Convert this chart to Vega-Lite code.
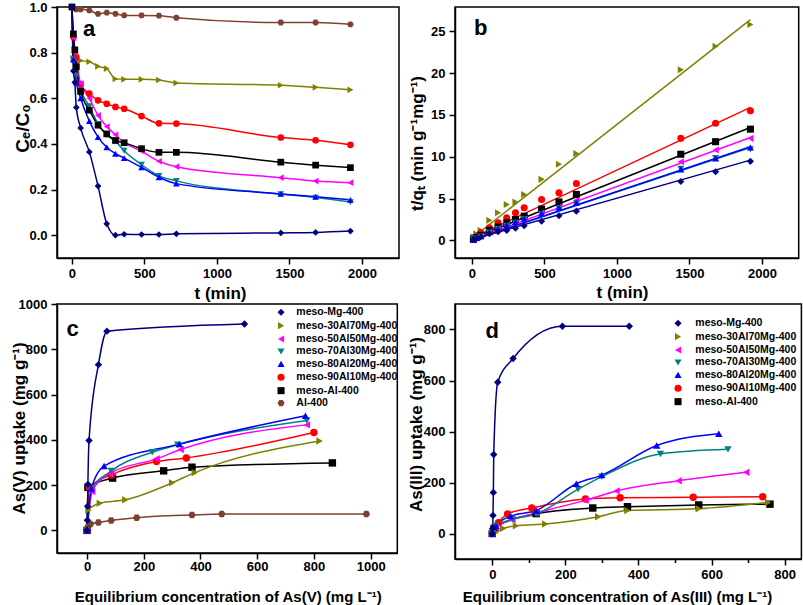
{
"$schema": "https://vega.github.io/schema/vega-lite/v6.json",
"background": "white",
"padding": {"left": 9, "top": 0, "right": 0, "bottom": 0},
"config": {
 "font": "Liberation Sans",
 "view": {"stroke": "black", "strokeWidth": 1.5},
 "axis": {"grid": false, "domainColor": "black", "domainWidth": 1.5, "tickColor": "black", "tickWidth": 1.5,
   "labelFont": "Liberation Sans", "labelFontWeight": "bold", "labelFontSize": 13, "labelColor": "black",
   "titleFont": "Liberation Sans", "titleFontWeight": "bold", "titleFontSize": 17, "titleColor": "black",
   "labelOverlap": false, "labelFlush": false, "labelBound": false, "titleBaseline": "middle", "titleAlign": "center"},
 "legend": {"labelFont": "Liberation Sans", "labelFontWeight": "bold", "labelFontSize": 10.5, "labelColor": "black", "padding": 0, "rowPadding": -0.6}
},
"datasets": {
"kin": [
{"s":"Al-400","x":0,"y":1.0},{"s":"Al-400","x":10,"y":0.995},{"s":"Al-400","x":30,"y":0.99},{"s":"Al-400","x":60,"y":0.99},{"s":"Al-400","x":120,"y":0.985},{"s":"Al-400","x":180,"y":0.97},{"s":"Al-400","x":240,"y":0.975},{"s":"Al-400","x":300,"y":0.97},{"s":"Al-400","x":360,"y":0.963},{"s":"Al-400","x":480,"y":0.963},{"s":"Al-400","x":600,"y":0.962},{"s":"Al-400","x":720,"y":0.953},{"s":"Al-400","x":1440,"y":0.932},{"s":"Al-400","x":1680,"y":0.932},{"s":"Al-400","x":1920,"y":0.924},
{"s":"meso-30Al70Mg-400","x":0,"y":1.0},{"s":"meso-30Al70Mg-400","x":10,"y":0.775},{"s":"meso-30Al70Mg-400","x":30,"y":0.77},{"s":"meso-30Al70Mg-400","x":60,"y":0.765},{"s":"meso-30Al70Mg-400","x":120,"y":0.76},{"s":"meso-30Al70Mg-400","x":180,"y":0.74},{"s":"meso-30Al70Mg-400","x":240,"y":0.73},{"s":"meso-30Al70Mg-400","x":300,"y":0.685},{"s":"meso-30Al70Mg-400","x":360,"y":0.683},{"s":"meso-30Al70Mg-400","x":480,"y":0.683},{"s":"meso-30Al70Mg-400","x":600,"y":0.68},{"s":"meso-30Al70Mg-400","x":720,"y":0.667},{"s":"meso-30Al70Mg-400","x":1440,"y":0.657},{"s":"meso-30Al70Mg-400","x":1680,"y":0.648},{"s":"meso-30Al70Mg-400","x":1920,"y":0.637},
{"s":"meso-90Al10Mg-400","x":0,"y":1.0},{"s":"meso-90Al10Mg-400","x":10,"y":0.868},{"s":"meso-90Al10Mg-400","x":30,"y":0.78},{"s":"meso-90Al10Mg-400","x":60,"y":0.66},{"s":"meso-90Al10Mg-400","x":120,"y":0.62},{"s":"meso-90Al10Mg-400","x":180,"y":0.591},{"s":"meso-90Al10Mg-400","x":240,"y":0.576},{"s":"meso-90Al10Mg-400","x":300,"y":0.562},{"s":"meso-90Al10Mg-400","x":360,"y":0.554},{"s":"meso-90Al10Mg-400","x":480,"y":0.522},{"s":"meso-90Al10Mg-400","x":600,"y":0.49},{"s":"meso-90Al10Mg-400","x":720,"y":0.489},{"s":"meso-90Al10Mg-400","x":1440,"y":0.428},{"s":"meso-90Al10Mg-400","x":1680,"y":0.416},{"s":"meso-90Al10Mg-400","x":1920,"y":0.396},
{"s":"meso-50Al50Mg-400","x":0,"y":1.0},{"s":"meso-50Al50Mg-400","x":10,"y":0.865},{"s":"meso-50Al50Mg-400","x":20,"y":0.8},{"s":"meso-50Al50Mg-400","x":30,"y":0.74},{"s":"meso-50Al50Mg-400","x":60,"y":0.665},{"s":"meso-50Al50Mg-400","x":120,"y":0.6},{"s":"meso-50Al50Mg-400","x":180,"y":0.525},{"s":"meso-50Al50Mg-400","x":240,"y":0.476},{"s":"meso-50Al50Mg-400","x":300,"y":0.44},{"s":"meso-50Al50Mg-400","x":360,"y":0.405},{"s":"meso-50Al50Mg-400","x":480,"y":0.368},{"s":"meso-50Al50Mg-400","x":600,"y":0.324},{"s":"meso-50Al50Mg-400","x":720,"y":0.3},{"s":"meso-50Al50Mg-400","x":1440,"y":0.252},{"s":"meso-50Al50Mg-400","x":1680,"y":0.237},{"s":"meso-50Al50Mg-400","x":1920,"y":0.23},
{"s":"meso-70Al30Mg-400","x":0,"y":1.0},{"s":"meso-70Al30Mg-400","x":10,"y":0.77},{"s":"meso-70Al30Mg-400","x":30,"y":0.7},{"s":"meso-70Al30Mg-400","x":60,"y":0.635},{"s":"meso-70Al30Mg-400","x":120,"y":0.565},{"s":"meso-70Al30Mg-400","x":180,"y":0.488},{"s":"meso-70Al30Mg-400","x":240,"y":0.438},{"s":"meso-70Al30Mg-400","x":300,"y":0.412},{"s":"meso-70Al30Mg-400","x":360,"y":0.37},{"s":"meso-70Al30Mg-400","x":480,"y":0.309},{"s":"meso-70Al30Mg-400","x":600,"y":0.26},{"s":"meso-70Al30Mg-400","x":720,"y":0.238},{"s":"meso-70Al30Mg-400","x":1440,"y":0.18},{"s":"meso-70Al30Mg-400","x":1680,"y":0.165},{"s":"meso-70Al30Mg-400","x":1920,"y":0.145},
{"s":"meso-80Al20Mg-400","x":0,"y":1.0},{"s":"meso-80Al20Mg-400","x":10,"y":0.77},{"s":"meso-80Al20Mg-400","x":30,"y":0.67},{"s":"meso-80Al20Mg-400","x":60,"y":0.6},{"s":"meso-80Al20Mg-400","x":120,"y":0.5},{"s":"meso-80Al20Mg-400","x":180,"y":0.43},{"s":"meso-80Al20Mg-400","x":240,"y":0.385},{"s":"meso-80Al20Mg-400","x":300,"y":0.357},{"s":"meso-80Al20Mg-400","x":360,"y":0.338},{"s":"meso-80Al20Mg-400","x":480,"y":0.297},{"s":"meso-80Al20Mg-400","x":600,"y":0.254},{"s":"meso-80Al20Mg-400","x":720,"y":0.226},{"s":"meso-80Al20Mg-400","x":1440,"y":0.181},{"s":"meso-80Al20Mg-400","x":1680,"y":0.168},{"s":"meso-80Al20Mg-400","x":1920,"y":0.155},
{"s":"meso-Al-400","x":0,"y":1.0},{"s":"meso-Al-400","x":10,"y":0.882},{"s":"meso-Al-400","x":20,"y":0.812},{"s":"meso-Al-400","x":30,"y":0.738},{"s":"meso-Al-400","x":60,"y":0.63},{"s":"meso-Al-400","x":120,"y":0.548},{"s":"meso-Al-400","x":180,"y":0.482},{"s":"meso-Al-400","x":240,"y":0.444},{"s":"meso-Al-400","x":300,"y":0.415},{"s":"meso-Al-400","x":360,"y":0.405},{"s":"meso-Al-400","x":480,"y":0.379},{"s":"meso-Al-400","x":600,"y":0.363},{"s":"meso-Al-400","x":720,"y":0.363},{"s":"meso-Al-400","x":1440,"y":0.32},{"s":"meso-Al-400","x":1680,"y":0.307},{"s":"meso-Al-400","x":1920,"y":0.296},
{"s":"meso-Mg-400","x":0,"y":1.0},{"s":"meso-Mg-400","x":10,"y":0.72},{"s":"meso-Mg-400","x":20,"y":0.67},{"s":"meso-Mg-400","x":30,"y":0.56},{"s":"meso-Mg-400","x":60,"y":0.47},{"s":"meso-Mg-400","x":120,"y":0.365},{"s":"meso-Mg-400","x":180,"y":0.215},{"s":"meso-Mg-400","x":240,"y":0.05},{"s":"meso-Mg-400","x":300,"y":0.0},{"s":"meso-Mg-400","x":360,"y":0.004},{"s":"meso-Mg-400","x":480,"y":0.003},{"s":"meso-Mg-400","x":600,"y":0.003},{"s":"meso-Mg-400","x":720,"y":0.006},{"s":"meso-Mg-400","x":1440,"y":0.01},{"s":"meso-Mg-400","x":1680,"y":0.012},{"s":"meso-Mg-400","x":1920,"y":0.018}
],
"bpts": [
{"s":"meso-30Al70Mg-400","x":10,"y":0.4},{"s":"meso-30Al70Mg-400","x":30,"y":0.8},{"s":"meso-30Al70Mg-400","x":60,"y":1.2},{"s":"meso-30Al70Mg-400","x":120,"y":2.4},{"s":"meso-30Al70Mg-400","x":180,"y":3.3},{"s":"meso-30Al70Mg-400","x":240,"y":4.3},{"s":"meso-30Al70Mg-400","x":300,"y":4.6},{"s":"meso-30Al70Mg-400","x":360,"y":5.5},{"s":"meso-30Al70Mg-400","x":480,"y":7.3},{"s":"meso-30Al70Mg-400","x":600,"y":9.1},{"s":"meso-30Al70Mg-400","x":720,"y":10.4},{"s":"meso-30Al70Mg-400","x":1440,"y":20.4},{"s":"meso-30Al70Mg-400","x":1680,"y":23.2},{"s":"meso-30Al70Mg-400","x":1920,"y":25.8},
{"s":"meso-90Al10Mg-400","x":10,"y":0.2},{"s":"meso-90Al10Mg-400","x":30,"y":0.45},{"s":"meso-90Al10Mg-400","x":60,"y":0.9},{"s":"meso-90Al10Mg-400","x":120,"y":1.5},{"s":"meso-90Al10Mg-400","x":180,"y":2.1},{"s":"meso-90Al10Mg-400","x":240,"y":2.7},{"s":"meso-90Al10Mg-400","x":300,"y":3.3},{"s":"meso-90Al10Mg-400","x":360,"y":3.9},{"s":"meso-90Al10Mg-400","x":480,"y":4.9},{"s":"meso-90Al10Mg-400","x":600,"y":5.7},{"s":"meso-90Al10Mg-400","x":720,"y":6.8},{"s":"meso-90Al10Mg-400","x":1440,"y":12.2},{"s":"meso-90Al10Mg-400","x":1680,"y":14.0},{"s":"meso-90Al10Mg-400","x":1920,"y":15.5},
{"s":"meso-Al-400","x":10,"y":0.15},{"s":"meso-Al-400","x":30,"y":0.35},{"s":"meso-Al-400","x":60,"y":0.6},{"s":"meso-Al-400","x":120,"y":1.2},{"s":"meso-Al-400","x":180,"y":1.6},{"s":"meso-Al-400","x":240,"y":2.1},{"s":"meso-Al-400","x":300,"y":2.5},{"s":"meso-Al-400","x":360,"y":2.9},{"s":"meso-Al-400","x":480,"y":3.75},{"s":"meso-Al-400","x":600,"y":4.6},{"s":"meso-Al-400","x":720,"y":5.5},{"s":"meso-Al-400","x":1440,"y":10.3},{"s":"meso-Al-400","x":1680,"y":11.8},{"s":"meso-Al-400","x":1920,"y":13.3},
{"s":"meso-50Al50Mg-400","x":10,"y":0.15},{"s":"meso-50Al50Mg-400","x":30,"y":0.3},{"s":"meso-50Al50Mg-400","x":60,"y":0.5},{"s":"meso-50Al50Mg-400","x":120,"y":1.0},{"s":"meso-50Al50Mg-400","x":180,"y":1.4},{"s":"meso-50Al50Mg-400","x":240,"y":1.8},{"s":"meso-50Al50Mg-400","x":300,"y":2.1},{"s":"meso-50Al50Mg-400","x":360,"y":2.5},{"s":"meso-50Al50Mg-400","x":480,"y":3.3},{"s":"meso-50Al50Mg-400","x":600,"y":4.0},{"s":"meso-50Al50Mg-400","x":720,"y":4.8},{"s":"meso-50Al50Mg-400","x":1440,"y":9.4},{"s":"meso-50Al50Mg-400","x":1680,"y":10.8},{"s":"meso-50Al50Mg-400","x":1920,"y":12.2},
{"s":"meso-70Al30Mg-400","x":10,"y":0.1},{"s":"meso-70Al30Mg-400","x":30,"y":0.25},{"s":"meso-70Al30Mg-400","x":60,"y":0.45},{"s":"meso-70Al30Mg-400","x":120,"y":0.95},{"s":"meso-70Al30Mg-400","x":180,"y":1.35},{"s":"meso-70Al30Mg-400","x":240,"y":1.75},{"s":"meso-70Al30Mg-400","x":300,"y":2.1},{"s":"meso-70Al30Mg-400","x":360,"y":2.55},{"s":"meso-70Al30Mg-400","x":480,"y":3.15},{"s":"meso-70Al30Mg-400","x":600,"y":3.8},{"s":"meso-70Al30Mg-400","x":720,"y":4.45},{"s":"meso-70Al30Mg-400","x":1440,"y":8.55},{"s":"meso-70Al30Mg-400","x":1680,"y":9.85},{"s":"meso-70Al30Mg-400","x":1920,"y":10.9},
{"s":"meso-80Al20Mg-400","x":10,"y":0.1},{"s":"meso-80Al20Mg-400","x":30,"y":0.3},{"s":"meso-80Al20Mg-400","x":60,"y":0.5},{"s":"meso-80Al20Mg-400","x":120,"y":1.0},{"s":"meso-80Al20Mg-400","x":180,"y":1.4},{"s":"meso-80Al20Mg-400","x":240,"y":1.8},{"s":"meso-80Al20Mg-400","x":300,"y":2.2},{"s":"meso-80Al20Mg-400","x":360,"y":2.6},{"s":"meso-80Al20Mg-400","x":480,"y":3.2},{"s":"meso-80Al20Mg-400","x":600,"y":3.9},{"s":"meso-80Al20Mg-400","x":720,"y":4.5},{"s":"meso-80Al20Mg-400","x":1440,"y":8.5},{"s":"meso-80Al20Mg-400","x":1680,"y":9.8},{"s":"meso-80Al20Mg-400","x":1920,"y":11.1},
{"s":"meso-Mg-400","x":10,"y":0.1},{"s":"meso-Mg-400","x":30,"y":0.25},{"s":"meso-Mg-400","x":60,"y":0.4},{"s":"meso-Mg-400","x":120,"y":0.8},{"s":"meso-Mg-400","x":180,"y":1.05},{"s":"meso-Mg-400","x":240,"y":1.2},{"s":"meso-Mg-400","x":300,"y":1.45},{"s":"meso-Mg-400","x":360,"y":1.75},{"s":"meso-Mg-400","x":480,"y":2.3},{"s":"meso-Mg-400","x":600,"y":2.95},{"s":"meso-Mg-400","x":720,"y":3.5},{"s":"meso-Mg-400","x":1440,"y":7.05},{"s":"meso-Mg-400","x":1680,"y":8.2},{"s":"meso-Mg-400","x":1920,"y":9.45}
],
"bfit": [
{"s":"meso-30Al70Mg-400","x":10,"y":0.4},{"s":"meso-30Al70Mg-400","x":1920,"y":26.4},
{"s":"meso-90Al10Mg-400","x":10,"y":0.35},{"s":"meso-90Al10Mg-400","x":1920,"y":15.9},
{"s":"meso-Al-400","x":10,"y":0.3},{"s":"meso-Al-400","x":1920,"y":13.5},
{"s":"meso-50Al50Mg-400","x":10,"y":0.15},{"s":"meso-50Al50Mg-400","x":1920,"y":12.3},
{"s":"meso-70Al30Mg-400","x":10,"y":0.1},{"s":"meso-70Al30Mg-400","x":1920,"y":11.1},
{"s":"meso-80Al20Mg-400","x":10,"y":0.1},{"s":"meso-80Al20Mg-400","x":1920,"y":11.2},
{"s":"meso-Mg-400","x":10,"y":0.15},{"s":"meso-Mg-400","x":1920,"y":9.6}
],
"iso5": [
{"s":"Al-400","x":0,"y":0},{"s":"Al-400","x":5,"y":20},{"s":"Al-400","x":12,"y":28},{"s":"Al-400","x":40,"y":35},{"s":"Al-400","x":85,"y":44},{"s":"Al-400","x":175,"y":56},{"s":"Al-400","x":370,"y":68},{"s":"Al-400","x":475,"y":72},{"s":"Al-400","x":985,"y":72},
{"s":"meso-Al-400","x":0,"y":0},{"s":"meso-Al-400","x":3,"y":190},{"s":"meso-Al-400","x":90,"y":231},{"s":"meso-Al-400","x":270,"y":263},{"s":"meso-Al-400","x":370,"y":279},{"s":"meso-Al-400","x":865,"y":298},
{"s":"meso-30Al70Mg-400","x":0,"y":0},{"s":"meso-30Al70Mg-400","x":5,"y":90},{"s":"meso-30Al70Mg-400","x":45,"y":120},{"s":"meso-30Al70Mg-400","x":135,"y":135},{"s":"meso-30Al70Mg-400","x":300,"y":210},{"s":"meso-30Al70Mg-400","x":380,"y":255},{"s":"meso-30Al70Mg-400","x":820,"y":395},
{"s":"meso-90Al10Mg-400","x":0,"y":0},{"s":"meso-90Al10Mg-400","x":8,"y":190},{"s":"meso-90Al10Mg-400","x":85,"y":245},{"s":"meso-90Al10Mg-400","x":245,"y":304},{"s":"meso-90Al10Mg-400","x":350,"y":320},{"s":"meso-90Al10Mg-400","x":800,"y":432},
{"s":"meso-50Al50Mg-400","x":0,"y":0},{"s":"meso-50Al50Mg-400","x":18,"y":172},{"s":"meso-50Al50Mg-400","x":80,"y":251},{"s":"meso-50Al50Mg-400","x":245,"y":316},{"s":"meso-50Al50Mg-400","x":330,"y":357},{"s":"meso-50Al50Mg-400","x":775,"y":466},
{"s":"meso-70Al30Mg-400","x":0,"y":0},{"s":"meso-70Al30Mg-400","x":15,"y":180},{"s":"meso-70Al30Mg-400","x":85,"y":262},{"s":"meso-70Al30Mg-400","x":230,"y":345},{"s":"meso-70Al30Mg-400","x":320,"y":378},{"s":"meso-70Al30Mg-400","x":775,"y":485},
{"s":"meso-80Al20Mg-400","x":0,"y":0},{"s":"meso-80Al20Mg-400","x":15,"y":185},{"s":"meso-80Al20Mg-400","x":60,"y":284},{"s":"meso-80Al20Mg-400","x":325,"y":381},{"s":"meso-80Al20Mg-400","x":770,"y":506},
{"s":"meso-Mg-400","x":0,"y":0},{"s":"meso-Mg-400","x":1,"y":45},{"s":"meso-Mg-400","x":2,"y":107},{"s":"meso-Mg-400","x":3,"y":203},{"s":"meso-Mg-400","x":7,"y":397},{"s":"meso-Mg-400","x":40,"y":732},{"s":"meso-Mg-400","x":70,"y":880},{"s":"meso-Mg-400","x":555,"y":912}
],
"iso3": [
{"s":"meso-Al-400","x":0,"y":0},{"s":"meso-Al-400","x":5,"y":20},{"s":"meso-Al-400","x":120,"y":78},{"s":"meso-Al-400","x":275,"y":100},{"s":"meso-Al-400","x":370,"y":105},{"s":"meso-Al-400","x":565,"y":112},{"s":"meso-Al-400","x":760,"y":115},
{"s":"meso-30Al70Mg-400","x":0,"y":0},{"s":"meso-30Al70Mg-400","x":10,"y":5},{"s":"meso-30Al70Mg-400","x":30,"y":20},{"s":"meso-30Al70Mg-400","x":65,"y":30},{"s":"meso-30Al70Mg-400","x":145,"y":37},{"s":"meso-30Al70Mg-400","x":290,"y":66},{"s":"meso-30Al70Mg-400","x":370,"y":90},{"s":"meso-30Al70Mg-400","x":565,"y":97},{"s":"meso-30Al70Mg-400","x":755,"y":122},
{"s":"meso-90Al10Mg-400","x":0,"y":0},{"s":"meso-90Al10Mg-400","x":17,"y":42},{"s":"meso-90Al10Mg-400","x":42,"y":77},{"s":"meso-90Al10Mg-400","x":108,"y":100},{"s":"meso-90Al10Mg-400","x":255,"y":135},{"s":"meso-90Al10Mg-400","x":350,"y":140},{"s":"meso-90Al10Mg-400","x":550,"y":142},{"s":"meso-90Al10Mg-400","x":740,"y":144},
{"s":"meso-50Al50Mg-400","x":0,"y":0},{"s":"meso-50Al50Mg-400","x":10,"y":25},{"s":"meso-50Al50Mg-400","x":55,"y":54},{"s":"meso-50Al50Mg-400","x":120,"y":81},{"s":"meso-50Al50Mg-400","x":255,"y":130},{"s":"meso-50Al50Mg-400","x":340,"y":167},{"s":"meso-50Al50Mg-400","x":510,"y":207},{"s":"meso-50Al50Mg-400","x":695,"y":240},
{"s":"meso-70Al30Mg-400","x":0,"y":0},{"s":"meso-70Al30Mg-400","x":10,"y":30},{"s":"meso-70Al30Mg-400","x":55,"y":55},{"s":"meso-70Al30Mg-400","x":120,"y":76},{"s":"meso-70Al30Mg-400","x":235,"y":174},{"s":"meso-70Al30Mg-400","x":300,"y":223},{"s":"meso-70Al30Mg-400","x":460,"y":312},{"s":"meso-70Al30Mg-400","x":645,"y":330},
{"s":"meso-80Al20Mg-400","x":0,"y":0},{"s":"meso-80Al20Mg-400","x":10,"y":30},{"s":"meso-80Al20Mg-400","x":50,"y":68},{"s":"meso-80Al20Mg-400","x":120,"y":90},{"s":"meso-80Al20Mg-400","x":230,"y":195},{"s":"meso-80Al20Mg-400","x":300,"y":229},{"s":"meso-80Al20Mg-400","x":450,"y":345},{"s":"meso-80Al20Mg-400","x":620,"y":391},
{"s":"meso-Mg-400","x":0,"y":0},{"s":"meso-Mg-400","x":1,"y":20},{"s":"meso-Mg-400","x":2,"y":71},{"s":"meso-Mg-400","x":3,"y":161},{"s":"meso-Mg-400","x":4,"y":310},{"s":"meso-Mg-400","x":15,"y":593},{"s":"meso-Mg-400","x":57,"y":686},{"s":"meso-Mg-400","x":192,"y":813},{"s":"meso-Mg-400","x":375,"y":813}
]
},
"columns": 2,
"align": "none",
"spacing": {"row": 46, "column": 56},
"bounds": "flush",
"resolve": {"scale": {"stroke": "independent", "fill": "independent", "shape": "independent"}, "legend": {"stroke": "independent", "fill": "independent", "shape": "independent"}},
"concat": [
 {"width": 342, "height": 251,
  "layer": [
   {"data": {"name": "kin"}, "mark": {"type": "line", "interpolate": "monotone", "strokeWidth": 1.5},
    "encoding": {
     "x": {"field": "x", "type": "quantitative", "scale": {"domain": [-103, 2255], "nice": false, "zero": false},
       "axis": {"title": "t (min)", "values": [0,250,500,750,1000,1250,1500,1750,2000,2250], "format": "d", "labelExpr": "datum.value % 500 === 0 ? datum.label : ''", "tickSize": {"condition": {"test": "datum.value % 500 === 0", "value": 6}, "value": 3.5}, "labelPadding": 3, "titleX": 163, "titleY": 35}},
     "y": {"field": "y", "type": "quantitative", "scale": {"domain": [-0.1, 1.0], "nice": false, "zero": false},
       "axis": {"title": "Cₑ/C₀", "titleFontSize": 19, "values": [0,0.1,0.2,0.3,0.4,0.5,0.6,0.7,0.8,0.9,1.0], "format": ".1f", "labelExpr": "round(datum.value*10) % 2 === 0 ? datum.label : ''", "tickSize": {"condition": {"test": "round(datum.value*10) % 2 === 0", "value": 6}, "value": 3.5}, "labelPadding": 4, "titleX": -35, "titleY": 121}},
     "stroke": {"field": "s", "type": "nominal", "legend": null, "scale": {"domain": ["meso-Mg-400","meso-30Al70Mg-400","meso-50Al50Mg-400","meso-70Al30Mg-400","meso-80Al20Mg-400","meso-90Al10Mg-400","meso-Al-400","Al-400"], "range": ["#000080","#808000","#ff00ff","#008080","#0000ff","#ff0000","#000000","#804030"]}}
    }},
   {"data": {"name": "kin"}, "mark": {"type": "point", "filled": true, "size": 45, "opacity": 1},
    "encoding": {
     "x": {"field": "x", "type": "quantitative"}, "y": {"field": "y", "type": "quantitative"},
     "fill": {"field": "s", "type": "nominal", "legend": null, "scale": {"domain": ["meso-Mg-400","meso-30Al70Mg-400","meso-50Al50Mg-400","meso-70Al30Mg-400","meso-80Al20Mg-400","meso-90Al10Mg-400","meso-Al-400","Al-400"], "range": ["#000080","#808000","#ff00ff","#008080","#0000ff","#ff0000","#000000","#804030"]}},
     "shape": {"field": "s", "type": "nominal", "legend": null, "scale": {"domain": ["meso-Mg-400","meso-30Al70Mg-400","meso-50Al50Mg-400","meso-70Al30Mg-400","meso-80Al20Mg-400","meso-90Al10Mg-400","meso-Al-400","Al-400"], "range": ["diamond","triangle-right","triangle-left","triangle-down","triangle-up","circle","square","M-1,0L-0.5,-0.87L0.5,-0.87L1,0L0.5,0.87L-0.5,0.87Z"]}}
    }},
   {"data": {"values": [{}]}, "mark": {"type": "text", "fontSize": 22, "fontWeight": "bold", "align": "center", "baseline": "middle"},
    "encoding": {"x": {"datum": 119}, "y": {"datum": 0.903}, "text": {"value": "a"}}}
  ]},
 {"width": 343.7, "height": 251,
  "layer": [
   {"data": {"name": "bfit"}, "mark": {"type": "line", "strokeWidth": 1.5},
    "encoding": {
     "x": {"field": "x", "type": "quantitative", "scale": {"domain": [-117, 2253], "nice": false, "zero": false},
       "axis": {"title": "t (min)", "values": [0,250,500,750,1000,1250,1500,1750,2000,2250], "format": "d", "labelExpr": "datum.value % 500 === 0 ? datum.label : ''", "tickSize": {"condition": {"test": "datum.value % 500 === 0", "value": 6}, "value": 3.5}, "labelPadding": 3, "titleX": 167, "titleY": 34}},
     "y": {"field": "y", "type": "quantitative", "scale": {"domain": [-2.1, 27.9], "nice": false, "zero": false},
       "axis": {"title": "t/qₜ (min g⁻¹mg⁻¹)", "values": [0,2.5,5,7.5,10,12.5,15,17.5,20,22.5,25,27.5], "format": "d", "labelExpr": "datum.value % 5 === 0 ? datum.label : ''", "tickSize": {"condition": {"test": "datum.value % 5 === 0", "value": 6}, "value": 3.5}, "labelPadding": 4, "titleX": -38, "titleY": 136}},
     "stroke": {"field": "s", "type": "nominal", "legend": null, "scale": {"domain": ["meso-Mg-400","meso-30Al70Mg-400","meso-50Al50Mg-400","meso-70Al30Mg-400","meso-80Al20Mg-400","meso-90Al10Mg-400","meso-Al-400"], "range": ["#000080","#808000","#ff00ff","#008080","#0000ff","#ff0000","#000000"]}}
    }},
   {"data": {"name": "bpts"}, "mark": {"type": "point", "filled": true, "size": 50, "opacity": 1},
    "encoding": {
     "x": {"field": "x", "type": "quantitative"}, "y": {"field": "y", "type": "quantitative"},
     "fill": {"field": "s", "type": "nominal", "legend": null, "scale": {"domain": ["meso-Mg-400","meso-30Al70Mg-400","meso-50Al50Mg-400","meso-70Al30Mg-400","meso-80Al20Mg-400","meso-90Al10Mg-400","meso-Al-400"], "range": ["#000080","#808000","#ff00ff","#008080","#0000ff","#ff0000","#000000"]}},
     "shape": {"field": "s", "type": "nominal", "legend": null, "scale": {"domain": ["meso-Mg-400","meso-30Al70Mg-400","meso-50Al50Mg-400","meso-70Al30Mg-400","meso-80Al20Mg-400","meso-90Al10Mg-400","meso-Al-400"], "range": ["diamond","triangle-right","triangle-left","triangle-down","triangle-up","circle","square"]}}
    }},
   {"data": {"values": [{}]}, "mark": {"type": "text", "fontSize": 22, "fontWeight": "bold", "align": "center", "baseline": "middle"},
    "encoding": {"x": {"datum": 60}, "y": {"datum": 25.4}, "text": {"value": "b"}}}
  ]},
 {"width": 340.3, "height": 249,
  "layer": [
   {"data": {"name": "iso5"}, "mark": {"type": "line", "interpolate": "monotone", "strokeWidth": 1.5},
    "encoding": {
     "x": {"field": "x", "type": "quantitative", "scale": {"domain": [-106, 1094], "nice": false, "zero": false},
       "axis": {"title": "Equilibrium concentration of As(V) (mg L⁻¹)", "titleFontSize": 15, "values": [0,100,200,300,400,500,600,700,800,900,1000], "format": "d", "labelExpr": "datum.value % 200 === 0 ? datum.label : ''", "tickSize": {"condition": {"test": "datum.value % 200 === 0", "value": 6}, "value": 3.5}, "labelPadding": 1, "titleX": 170.7, "titleY": 43}},
     "y": {"field": "y", "type": "quantitative", "scale": {"domain": [-100, 1000], "nice": false, "zero": false},
       "axis": {"title": "As(V) uptake (mg g⁻¹)", "values": [0,100,200,300,400,500,600,700,800,900,1000], "format": "d", "labelExpr": "datum.value % 200 === 0 ? datum.label : ''", "tickSize": {"condition": {"test": "datum.value % 200 === 0", "value": 6}, "value": 3.5}, "labelPadding": 4, "titleX": -37.3, "titleY": 124}},
     "stroke": {"field": "s", "type": "nominal", "legend": null,
       "scale": {"domain": ["Al-400","meso-Al-400","meso-90Al10Mg-400","meso-80Al20Mg-400","meso-70Al30Mg-400","meso-50Al50Mg-400","meso-30Al70Mg-400","meso-Mg-400"], "range": ["#804030","#000000","#ff0000","#0000ff","#008080","#ff00ff","#808000","#000080"]}}
    }},
   {"data": {"name": "iso5"}, "mark": {"type": "point", "filled": true, "size": 55, "opacity": 1},
    "encoding": {
     "x": {"field": "x", "type": "quantitative"}, "y": {"field": "y", "type": "quantitative"},
     "fill": {"field": "s", "type": "nominal",
       "legend": {"orient": "none", "legendX": 218.8, "legendY": 3, "title": null, "symbolSize": 50, "labelOffset": 10,
         "encode": {"symbols": {
           "shape": {"value": {"expr": "datum.value==='meso-Mg-400' ? 'M-3.5,0L3.5,0M0,-1.1L1.1,0L0,1.1L-1.1,0Z' : datum.value==='meso-30Al70Mg-400' ? 'M-3.5,0L3.5,0M1,0L-0.8,-1L-0.8,1Z' : datum.value==='meso-50Al50Mg-400' ? 'M-3.5,0L3.5,0M-1,0L0.8,-1L0.8,1Z' : datum.value==='meso-70Al30Mg-400' ? 'M-3.5,0L3.5,0M0,1L1,-0.8L-1,-0.8Z' : datum.value==='meso-80Al20Mg-400' ? 'M-3.5,0L3.5,0M0,-1L1,0.8L-1,0.8Z' : datum.value==='meso-90Al10Mg-400' ? 'M-3.5,0L3.5,0M1,0A1,1,0,1,1,-1,0A1,1,0,1,1,1,0Z' : datum.value==='meso-Al-400' ? 'M-3.5,0L3.5,0M-0.85,-0.85L0.85,-0.85L0.85,0.85L-0.85,0.85Z' : 'M-3.5,0L3.5,0M-1,0L-0.5,-0.87L0.5,-0.87L1,0L0.5,0.87L-0.5,0.87Z'"}},
           "stroke": {"value": {"expr": "datum.value==='meso-Mg-400' ? '#000080' : datum.value==='meso-30Al70Mg-400' ? '#808000' : datum.value==='meso-50Al50Mg-400' ? '#ff00ff' : datum.value==='meso-70Al30Mg-400' ? '#008080' : datum.value==='meso-80Al20Mg-400' ? '#0000ff' : datum.value==='meso-90Al10Mg-400' ? '#ff0000' : datum.value==='meso-Al-400' ? '#000000' : '#804030'"}},
           "strokeWidth": {"value": 1.5}}}},
       "scale": {"domain": ["meso-Mg-400","meso-30Al70Mg-400","meso-50Al50Mg-400","meso-70Al30Mg-400","meso-80Al20Mg-400","meso-90Al10Mg-400","meso-Al-400","Al-400"], "range": ["#000080","#808000","#ff00ff","#008080","#0000ff","#ff0000","#000000","#804030"]}},
     "shape": {"field": "s", "type": "nominal",
       "legend": {"orient": "none", "legendX": 218.8, "legendY": 3, "title": null, "symbolSize": 50, "labelOffset": 10},
       "scale": {"domain": ["meso-Mg-400","meso-30Al70Mg-400","meso-50Al50Mg-400","meso-70Al30Mg-400","meso-80Al20Mg-400","meso-90Al10Mg-400","meso-Al-400","Al-400"], "range": ["diamond","triangle-right","triangle-left","triangle-down","triangle-up","circle","square","M-1,0L-0.5,-0.87L0.5,-0.87L1,0L0.5,0.87L-0.5,0.87Z"]}}
    }},
   {"data": {"values": [{}]}, "mark": {"type": "text", "fontSize": 22, "fontWeight": "bold", "align": "center", "baseline": "middle"},
    "encoding": {"x": {"datum": -51}, "y": {"datum": 888}, "text": {"value": "c"}}}
  ]},
 {"width": 346.4, "height": 255,
  "layer": [
   {"data": {"name": "iso3"}, "mark": {"type": "line", "interpolate": "monotone", "strokeWidth": 1.5},
    "encoding": {
     "x": {"field": "x", "type": "quantitative", "scale": {"domain": [-102, 846], "nice": false, "zero": false},
       "axis": {"title": "Equilibrium concentration of As(III) (mg L⁻¹)", "titleFontSize": 15, "values": [0,100,200,300,400,500,600,700,800], "format": "d", "labelExpr": "datum.value % 200 === 0 ? datum.label : ''", "tickSize": {"condition": {"test": "datum.value % 200 === 0", "value": 6}, "value": 3.5}, "labelPadding": 3, "titleX": 162, "titleY": 37}},
     "y": {"field": "y", "type": "quantitative", "scale": {"domain": [-100, 900], "nice": false, "zero": false},
       "axis": {"title": "As(III) uptake (mg g⁻¹)", "values": [0,100,200,300,400,500,600,700,800], "format": "d", "labelExpr": "datum.value % 200 === 0 ? datum.label : ''", "tickSize": {"condition": {"test": "datum.value % 200 === 0", "value": 6}, "value": 3.5}, "labelPadding": 4, "titleX": -39, "titleY": 120}},
     "stroke": {"field": "s", "type": "nominal", "legend": null,
       "scale": {"domain": ["meso-Al-400","meso-90Al10Mg-400","meso-80Al20Mg-400","meso-70Al30Mg-400","meso-50Al50Mg-400","meso-30Al70Mg-400","meso-Mg-400"], "range": ["#000000","#ff0000","#0000ff","#008080","#ff00ff","#808000","#000080"]}}
    }},
   {"data": {"name": "iso3"}, "mark": {"type": "point", "filled": true, "size": 55, "opacity": 1},
    "encoding": {
     "x": {"field": "x", "type": "quantitative"}, "y": {"field": "y", "type": "quantitative"},
     "fill": {"field": "s", "type": "nominal",
       "legend": {"orient": "none", "legendX": 217.8, "legendY": 14, "title": null, "symbolSize": 50, "labelOffset": 12,
         "encode": {"symbols": {
           "shape": {"value": {"expr": "datum.value==='meso-Mg-400' ? 'M-3.8,0L3.8,0M0,-1.1L1.1,0L0,1.1L-1.1,0Z' : datum.value==='meso-30Al70Mg-400' ? 'M-3.8,0L3.8,0M1,0L-0.8,-1L-0.8,1Z' : datum.value==='meso-50Al50Mg-400' ? 'M-3.8,0L3.8,0M-1,0L0.8,-1L0.8,1Z' : datum.value==='meso-70Al30Mg-400' ? 'M-3.8,0L3.8,0M0,1L1,-0.8L-1,-0.8Z' : datum.value==='meso-80Al20Mg-400' ? 'M-3.8,0L3.8,0M0,-1L1,0.8L-1,0.8Z' : datum.value==='meso-90Al10Mg-400' ? 'M-3.8,0L3.8,0M1,0A1,1,0,1,1,-1,0A1,1,0,1,1,1,0Z' : 'M-3.8,0L3.8,0M-0.85,-0.85L0.85,-0.85L0.85,0.85L-0.85,0.85Z'"}},
           "stroke": {"value": {"expr": "datum.value==='meso-Mg-400' ? '#000080' : datum.value==='meso-30Al70Mg-400' ? '#808000' : datum.value==='meso-50Al50Mg-400' ? '#ff00ff' : datum.value==='meso-70Al30Mg-400' ? '#008080' : datum.value==='meso-80Al20Mg-400' ? '#0000ff' : datum.value==='meso-90Al10Mg-400' ? '#ff0000' : '#000000'"}},
           "strokeWidth": {"value": 1.5}}}},
       "scale": {"domain": ["meso-Mg-400","meso-30Al70Mg-400","meso-50Al50Mg-400","meso-70Al30Mg-400","meso-80Al20Mg-400","meso-90Al10Mg-400","meso-Al-400"], "range": ["#000080","#808000","#ff00ff","#008080","#0000ff","#ff0000","#000000"]}},
     "shape": {"field": "s", "type": "nominal",
       "legend": {"orient": "none", "legendX": 217.8, "legendY": 14, "title": null, "symbolSize": 50, "labelOffset": 12},
       "scale": {"domain": ["meso-Mg-400","meso-30Al70Mg-400","meso-50Al50Mg-400","meso-70Al30Mg-400","meso-80Al20Mg-400","meso-90Al10Mg-400","meso-Al-400"], "range": ["diamond","triangle-right","triangle-left","triangle-down","triangle-up","circle","square"]}}
    }},
   {"data": {"values": [{}]}, "mark": {"type": "text", "fontSize": 22, "fontWeight": "bold", "align": "center", "baseline": "middle"},
    "encoding": {"x": {"datum": 0}, "y": {"datum": 793}, "text": {"value": "d"}}}
  ]}
]
}
